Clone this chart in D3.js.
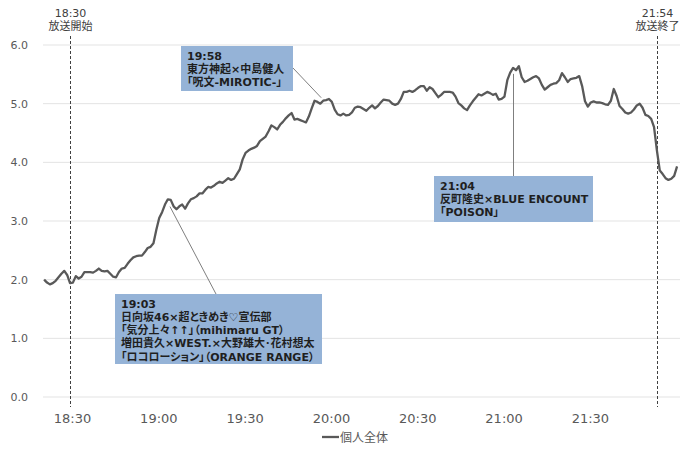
<!DOCTYPE html>
<html><head><meta charset="utf-8">
<script src="https://cdn.jsdelivr.net/npm/d3@7"></script>
<style>
body{margin:0;background:#fff;}
svg text{font-family:"DejaVu Sans","Noto Sans CJK JP",sans-serif;}
.note{font-feature-settings:"palt";}
</style></head>
<body><svg id="c" width="700" height="454"></svg>
<script>
// ---- data ----
const startTime = "18:21";
const values = [
2.00,1.95,1.92,1.94,1.98,2.04,2.10,2.15,2.08,1.94,
1.95,2.06,2.02,2.05,2.13,2.13,2.13,2.12,2.15,2.19,
2.15,2.14,2.15,2.10,2.05,2.04,2.13,2.19,2.20,2.27,
2.33,2.38,2.40,2.41,2.41,2.47,2.54,2.56,2.62,2.85,
3.05,3.15,3.28,3.37,3.36,3.25,3.20,3.25,3.28,3.21,
3.30,3.37,3.39,3.42,3.47,3.47,3.53,3.58,3.57,3.60,
3.64,3.67,3.65,3.69,3.73,3.70,3.72,3.80,3.88,4.05,
4.16,4.20,4.23,4.25,4.28,4.36,4.40,4.44,4.53,4.63,
4.60,4.56,4.64,4.69,4.75,4.80,4.84,4.73,4.74,4.72,
4.70,4.68,4.78,4.92,5.05,5.03,5.00,5.05,5.06,5.08,
5.03,4.90,4.82,4.80,4.83,4.80,4.81,4.85,4.93,4.95,
4.94,4.91,4.88,4.93,4.97,4.92,4.96,5.02,5.07,5.06,
5.05,5.00,4.98,5.00,5.08,5.20,5.20,5.22,5.20,5.23,
5.27,5.30,5.30,5.22,5.28,5.25,5.18,5.11,5.15,5.20,
5.20,5.20,5.19,5.12,5.01,4.97,4.92,4.89,4.97,5.04,
5.10,5.16,5.14,5.17,5.20,5.18,5.15,5.17,5.07,5.08,
5.12,5.40,5.53,5.61,5.57,5.64,5.45,5.37,5.39,5.42,
5.45,5.47,5.43,5.32,5.24,5.28,5.32,5.34,5.35,5.40,
5.52,5.45,5.37,5.42,5.43,5.44,5.47,5.30,5.04,4.95,
5.02,5.04,5.02,5.02,5.01,4.99,4.98,5.05,5.25,5.13,
4.96,4.91,4.85,4.83,4.85,4.90,4.97,5.00,4.93,4.81,
4.79,4.74,4.60,4.20,3.86,3.80,3.73,3.70,3.72,3.77,
3.93
];
const seriesName = "個人全体";
const xTickLabels = ["18:30","19:00","19:30","20:00","20:30","21:00","21:30"];
const yTicks = [0,1,2,3,4,5,6];
const markerTimes = ["18:30","21:54"];
const markerLabels = ["放送開始","放送終了"];
const noteTimes = ["19:03","19:58","21:04"];
const noteTexts = [
  ["19:03","日向坂46×超ときめき♡宣伝部","「気分上々↑↑」（mihimaru GT）","増田貴久×WEST.×大野雄大･花村想太","「ロコローション」（ORANGE RANGE）"],
  ["19:58","東方神起×中島健人","「呪文-MIROTIC-」"],
  ["21:04","反町隆史×BLUE ENCOUNT","「POISON」"]
];

// ---- categories (minute labels) ----
const fmt = d3.timeFormat("%H:%M"), parse = d3.timeParse("%H:%M");
const t0 = parse(startTime);
const times = values.map((v,i)=>fmt(d3.timeMinute.offset(t0,i)));
const data = times.map((t,i)=>({t, v: values[i]}));

// ---- layout ----
const svg = d3.select("#c");
const x = d3.scalePoint().domain(times).range([42.7,678.5]).padding(0.5);
const y = d3.scaleLinear().domain([0,6]).range([397,45]);

// gridlines
svg.append("g").selectAll("line").data(yTicks).join("line")
  .attr("x1",43).attr("x2",680).attr("y1",d=>y(d)).attr("y2",d=>y(d))
  .attr("stroke","#e3e3e3").attr("stroke-width",1);

// y axis
const ya = svg.append("g").attr("transform","translate(30,0)")
  .call(d3.axisLeft(y).tickValues(yTicks).tickFormat(d3.format(".1f")).tickSize(0).tickPadding(2));
ya.select(".domain").remove();
ya.selectAll("text").attr("fill","#595959").attr("font-size",11);

// x axis
const xa = svg.append("g").attr("transform","translate(2,397)")
  .call(d3.axisBottom(x).tickValues(xTickLabels).tickSize(0).tickPadding(17));
xa.select(".domain").remove();
xa.selectAll("text").attr("fill","#595959").attr("font-size",13);

// markers
markerTimes.forEach((t,i)=>{
  const mx = Math.round(x(t))+0.5;
  svg.append("line").attr("x1",mx).attr("x2",mx).attr("y1",36).attr("y2",407)
    .attr("stroke","#404040").attr("stroke-width",1).attr("stroke-dasharray","3,2");
  svg.append("text").attr("x",mx).attr("y",17).attr("text-anchor","middle")
    .attr("font-size",11).attr("fill","#404040").text(t);
  svg.append("text").attr("x",mx).attr("y",30).attr("text-anchor","middle")
    .attr("font-size",11).attr("fill","#404040").text(markerLabels[i]);
});

// line
svg.append("path").datum(data)
  .attr("d", d3.line().x(d=>x(d.t)).y(d=>y(d.v)))
  .attr("fill","none").attr("stroke","#595959").attr("stroke-width",2.3)
  .attr("stroke-linejoin","round");

// annotations
const boxes = [
  {x:115,y:294,w:207,h:70, ax:216, ay:294, dx:5, dy:2},
  {x:181,y:46,w:112,h:45, ax:293, ay:68, dx:-2, dy:-3},
  {x:434,y:176,w:159,h:46, ax:null, ay:176, dx:0, dy:6}
];
const val = t => values[times.indexOf(t)];
noteTimes.forEach((t,i)=>{
  const b = boxes[i];
  const px = x(t), py = y(val(t));
  const ax = b.ax===null ? Math.round(px)+0.5 : b.ax;
  svg.append("line").attr("x1",ax).attr("y1",b.ay)
    .attr("x2",b.ax===null?ax:px+b.dx).attr("y2",py+b.dy)
    .attr("stroke","#7f7f7f").attr("stroke-width",1);
  svg.append("rect").attr("x",b.x).attr("y",b.y).attr("width",b.w).attr("height",b.h)
    .attr("fill","#95b3d7");
  const tx = svg.append("text").attr("class","note").attr("font-size",11)
    .attr("font-weight","bold").attr("fill","#1f1f1f");
  noteTexts[i].forEach((s,j)=>{
    tx.append("tspan").attr("x",b.x+6).attr("y",b.y+13.5+j*13.3).text(s);
  });
});

// legend
const lg = svg.append("g").attr("transform","translate(322,437)");
lg.append("line").attr("x1",0).attr("x2",17).attr("y1",0).attr("y2",0)
  .attr("stroke","#595959").attr("stroke-width",2.3);
lg.append("text").attr("x",18).attr("y",4.5).attr("font-size",12).attr("fill","#595959").text(seriesName);
</script></body></html>
